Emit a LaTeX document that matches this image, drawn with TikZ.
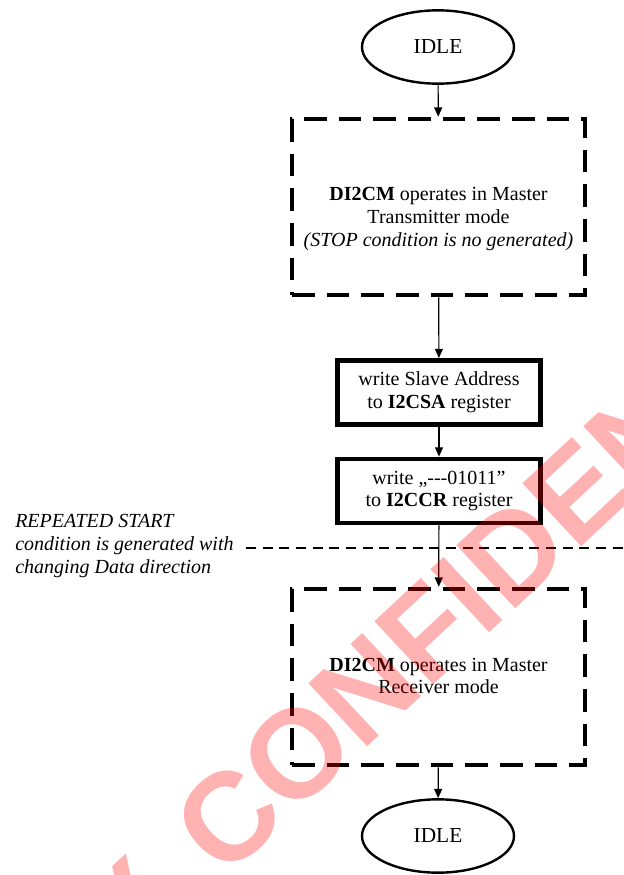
\documentclass[tikz,border=0pt]{standalone}
\usepackage{fontspec}
\setmainfont{Liberation Serif}
\newfontfamily\wmfont{Liberation Sans}
\usetikzlibrary{arrows.meta,shapes.geometric}
\begin{document}
\begin{tikzpicture}[x=0.75pt,y=-0.75pt,
  txt/.style={font=\fontsize{15}{17}\selectfont, align=center, inner sep=0pt},
  dbox/.style={draw, line width=3.4pt, dash pattern=on 17pt off 9pt, minimum width=220pt, minimum height=132pt, inner sep=0pt},
  sbox/.style={draw, line width=3.6pt, minimum width=152pt, minimum height=48pt, inner sep=0pt, font=\fontsize{15}{17}\selectfont, align=center},
  idle/.style={draw, ellipse, line width=1.8pt, minimum width=114pt, minimum height=55pt, inner sep=0pt, font=\fontsize{16}{18}\selectfont},
  arr/.style={-{Triangle[length=7pt,width=6pt]}, line width=0.9pt},
  sepline/.style={line width=0.9pt, dash pattern=on 7.5pt off 5pt},
  note/.style={font=\fontsize{15}{17}\selectfont\itshape, align=left, inner sep=0pt, anchor=west},
  wm/.style={rotate=43, text=red, text opacity=0.3, inner sep=0pt, font=\wmfont\bfseries\fontsize{94}{94}\selectfont}
]
\useasboundingbox (0,0) rectangle (624,875);

\node[idle] (idle1) at (438,47) {IDLE};
\node[dbox] (tx) at (438.5,207) {};
\node[txt] (txlabel) at (438.5,219) {\textbf{DI2CM} operates in Master\\Transmitter mode\\\textit{(STOP condition is no generated)}};
\node[sbox] (sa) at (439,392.5) {write Slave Address\\to \textbf{I2CSA} register};
\node[sbox] (cr) at (439,491) {write „-{}-{}-01011”\\to \textbf{I2CCR} register};
\node[dbox] (rx) at (438.5,677) {};
\node[txt] (rxlabel) at (438.5,676) {\textbf{DI2CM} operates in Master\\Receiver mode};
\node[idle] (idle2) at (438,836) {IDLE};

\node[note] (rs) at (15,546) {REPEATED START\\condition is generated with\\changing Data direction};
\coordinate (sepA) at (246,548);
\coordinate (sepB) at (624,548);
\draw[sepline] (sepA) -- (sepB);

\draw[arr] (idle1) -- (tx);
\draw[arr] (tx) -- (sa);
\draw[arr] (sa) -- (cr);
\draw[arr] (cr) -- (rx);
\draw[arr] (rx) -- (idle2);

\begin{scope}
\clip (0,0) rectangle (624,875);
\node[wm, anchor=base west] (wmB) at (224,880.6) {CONFIDENTIAL};
\node[wm, anchor=base east] (wmA) at (186.7,915.4) {STRICTLY};
\end{scope}
\end{tikzpicture}
\end{document}
